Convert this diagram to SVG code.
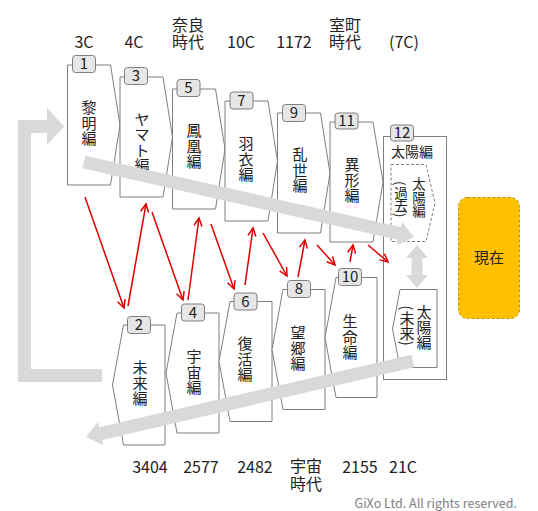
<svg xmlns="http://www.w3.org/2000/svg" width="538" height="511" viewBox="0 0 538 511">
<style>
text{font-family:"Noto Sans CJK JP","Noto Sans",sans-serif;fill:#222}
.lbl{font-size:16px;text-anchor:middle}
.node{fill:#fff;stroke:#7f7f7f;stroke-width:1}
.badge{fill:#e6e6e6;stroke:#7f7f7f;stroke-width:1}
.num{font-size:15px;text-anchor:middle}
.vt{font-size:15px;text-anchor:middle}
.sm{font-size:13.5px;text-anchor:middle}
.par{text-anchor:middle;dominant-baseline:central}
.big{fill:none;stroke:#d9d9d9;stroke-width:13}
.bigh{fill:#d9d9d9}
.red{stroke:#e00000;stroke-width:1.5;fill:none;marker-end:url(#ah)}
</style>
<defs>
<marker id="ah" markerUnits="userSpaceOnUse" markerWidth="12" markerHeight="12" refX="9" refY="5" orient="auto">
<path d="M1,1 L9,5 L1,9" fill="none" stroke="#e00000" stroke-width="1.5"/>
</marker>
</defs>
<rect width="538" height="511" fill="#fff"/>
<g id="labels-top">
<text class="lbl" x="84" y="48">3C</text>
<text class="lbl" x="134" y="48">4C</text>
<text class="lbl" x="188" y="31">奈良<tspan x="188" dy="16.5">時代</tspan></text>
<text class="lbl" x="241" y="48">10C</text>
<text class="lbl" x="294" y="48">1172</text>
<text class="lbl" x="345" y="31">室町<tspan x="345" dy="16.5">時代</tspan></text>
<text class="lbl" x="404" y="48">(7C)</text>
</g>
<g id="labels-bottom">
<text class="lbl" x="150" y="473">3404</text>
<text class="lbl" x="201" y="473">2577</text>
<text class="lbl" x="255" y="473">2482</text>
<text class="lbl" x="306" y="472">宇宙<tspan x="306" dy="18">時代</tspan></text>
<text class="lbl" x="360" y="473">2155</text>
<text class="lbl" x="403" y="473">21C</text>
<text x="517" y="508" style="font-size:12.5px;fill:#808080;text-anchor:end">GiXo Ltd. All rights reserved.</text>
</g>
<g id="n1"><path class="node" d="M67.5,65 H110.5 L120,125 L110.5,185 H67.5 Z"/><rect class="badge" x="72.5" y="55.5" width="23" height="17" rx="3"/><text class="num" x="84" y="69">1</text><text class="vt" x="89" y="113.2">黎<tspan x="89" dy="15.5">明</tspan><tspan x="89" dy="15.5">編</tspan></text></g>
<g id="n3"><path class="node" d="M120,77 H163 L172.5,137 L163,197 H120 Z"/><rect class="badge" x="124.5" y="67.5" width="23" height="17" rx="3"/><text class="num" x="136" y="81">3</text><text class="vt" x="142" y="124.5">ヤ<tspan x="142" dy="15.5">マ</tspan><tspan x="142" dy="15.5">ト</tspan><tspan x="142" dy="15.5">編</tspan></text></g>
<g id="n5"><path class="node" d="M172.5,89 H215.5 L225,149 L215.5,209 H172.5 Z"/><rect class="badge" x="177" y="79.5" width="23" height="17" rx="3"/><text class="num" x="188.5" y="93">5</text><text class="vt" x="194" y="136.2">鳳<tspan x="194" dy="15.5">凰</tspan><tspan x="194" dy="15.5">編</tspan></text></g>
<g id="n7"><path class="node" d="M225,101 H268 L277.5,161 L268,221 H225 Z"/><rect class="badge" x="230" y="92" width="23" height="17" rx="3"/><text class="num" x="241.5" y="105.5">7</text><text class="vt" x="246" y="149.2">羽<tspan x="246" dy="15.5">衣</tspan><tspan x="246" dy="15.5">編</tspan></text></g>
<g id="n9"><path class="node" d="M277.5,113 H320.5 L330,173 L320.5,233 H277.5 Z"/><rect class="badge" x="282.5" y="104.5" width="23" height="17" rx="3"/><text class="num" x="294" y="118">9</text><text class="vt" x="300" y="160.2">乱<tspan x="300" dy="15.5">世</tspan><tspan x="300" dy="15.5">編</tspan></text></g>
<g id="n11"><path class="node" d="M330,122 H373 L383,182 L373,242 H330 Z"/><rect class="badge" x="335" y="113" width="23" height="16" rx="3"/><text class="num" x="346.5" y="126">11</text><text class="vt" x="352" y="170.2">異<tspan x="352" dy="15.5">形</tspan><tspan x="352" dy="15.5">編</tspan></text></g>
<g id="n12">
<rect class="node" x="383.5" y="136.5" width="63" height="243"/>
<rect class="badge" x="390.5" y="125" width="23" height="16" rx="3"/><text class="num" x="402" y="138">12</text>
<text x="391" y="157" style="font-size:14px">太陽編</text>
<path d="M391,164.5 H426 L435,203 L426,241.5 H391 Z" fill="#fff" stroke="#7f7f7f" stroke-dasharray="3,2"/>
<text class="sm" x="419" y="189.1">太<tspan x="419" dy="13.5">陽</tspan><tspan x="419" dy="13.5">編</tspan></text>
<text class="par" transform="translate(401,183.3) rotate(90)" style="font-size:13.5px">(</text>
<text class="sm" x="401" y="197.6">過<tspan x="401" dy="13.5">去</tspan></text>
<text class="par" transform="translate(401,215.3) rotate(90)" style="font-size:13.5px">)</text>
<path class="node" d="M437,289.5 V367.5 H400 L392.5,329 L400,289.5 Z"/>
<text class="vt" x="424" y="318.2">太<tspan x="424" dy="15">陽</tspan><tspan x="424" dy="15">編</tspan></text>
<text class="par" transform="translate(407,307.8) rotate(90)" style="font-size:15px">(</text>
<text class="vt" x="407" y="323.7">未<tspan x="407" dy="15">来</tspan></text>
<text class="par" transform="translate(407,343.2) rotate(90)" style="font-size:15px">)</text>
</g>
<g id="n2"><path class="node" d="M165,325 V445 H123.5 L112.5,385 L123.5,325 Z"/><rect class="badge" x="127.5" y="316.5" width="23" height="17" rx="3"/><text class="num" x="139" y="330">2</text><text class="vt" x="140" y="373.2">未<tspan x="140" dy="15.5">来</tspan><tspan x="140" dy="15.5">編</tspan></text></g>
<g id="n4"><path class="node" d="M219,313 V433 H177 L166,373 L177,313 Z"/><rect class="badge" x="181.5" y="304" width="23" height="17" rx="3"/><text class="num" x="193" y="317.5">4</text><text class="vt" x="194" y="362.2">宇<tspan x="194" dy="15.5">宙</tspan><tspan x="194" dy="15.5">編</tspan></text></g>
<g id="n6"><path class="node" d="M272,301.5 V421.5 H230 L219,361.5 L230,301.5 Z"/><rect class="badge" x="234" y="293" width="23" height="17" rx="3"/><text class="num" x="245.5" y="306.5">6</text><text class="vt" x="245" y="349.2">復<tspan x="245" dy="15.5">活</tspan><tspan x="245" dy="15.5">編</tspan></text></g>
<g id="n8"><path class="node" d="M325,289.5 V409.5 H283 L272,349.5 L283,289.5 Z"/><rect class="badge" x="287.5" y="280.5" width="23" height="17" rx="3"/><text class="num" x="299" y="294">8</text><text class="vt" x="298" y="338.2">望<tspan x="298" dy="15.5">郷</tspan><tspan x="298" dy="15.5">編</tspan></text></g>
<g id="n10"><path class="node" d="M377,277.5 V397.5 H336 L325,337.5 L336,277.5 Z"/><rect class="badge" x="338.5" y="268.5" width="23" height="17" rx="3"/><text class="num" x="350" y="282">10</text><text class="vt" x="350" y="327.2">生<tspan x="350" dy="15.5">命</tspan><tspan x="350" dy="15.5">編</tspan></text></g>
<g id="now"><rect x="458.5" y="197.5" width="61" height="121" rx="9" fill="#ffc000" stroke="#bf9000" stroke-dasharray="3,2"/><text x="489" y="263" style="font-size:15px;text-anchor:middle">現在</text></g>
<g id="connectors">
<path class="big" d="M102,375.5 H24.5 V126.5 H48"/>
<polygon class="bigh" points="47,108 64,126.5 47,145"/>
<path class="big" d="M84,162 L400,233.7"/>
<polygon class="bigh" points="402.1,222 414,237 396.7,245.4"/>
<path class="big" d="M413,361 L100.6,433.6"/>
<polygon class="bigh" points="97.9,421.9 86,437 103.3,445.3"/>
<polygon class="bigh" points="417,245 428,258 422.5,258 422.5,275 428,275 417,288 406,275 411.5,275 411.5,258 406,258"/>
<path class="red" d="M85,197 L124,308"/>
<path class="red" d="M128,306 L146,204"/>
<path class="red" d="M152,212 L183,300"/>
<path class="red" d="M188,300 L199,218"/>
<path class="red" d="M211,224 L234,289"/>
<path class="red" d="M245,285 L253,228"/>
<path class="red" d="M263,233 L287,276"/>
<path class="red" d="M298,277 L305,240"/>
<path class="red" d="M317,245 L335,265"/>
<path class="red" d="M350,262 L353,245"/>
<path class="red" d="M368,245 L388,262"/>
</g>
</svg>
